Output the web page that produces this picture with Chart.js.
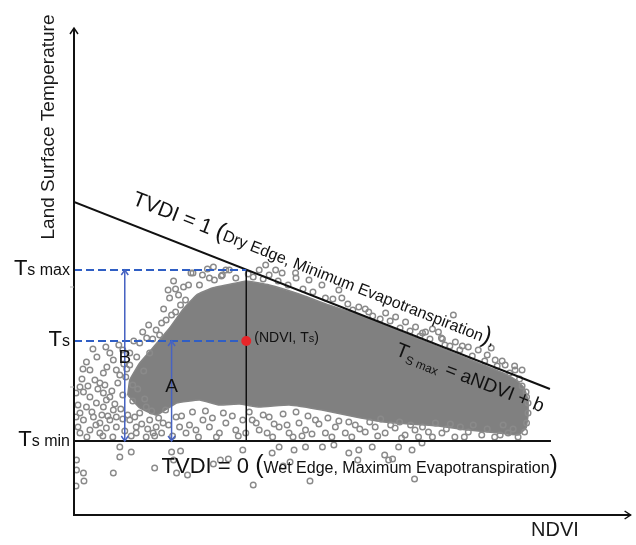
<!DOCTYPE html>
<html>
<head>
<meta charset="utf-8">
<script src="https://cdn.jsdelivr.net/npm/chart.js@4.4.1/dist/chart.umd.min.js"></script>
<style>
  html, body { margin: 0; padding: 0; background: #fff; }
  #wrap { width: 636px; height: 545px; position: relative; }
</style>
</head>
<body>
<div id="wrap"><canvas id="c"></canvas></div>
<script>
// Valores del diagrama TVDI (NDVI sin unidad, LST en unidades arbitrarias)
const X_MAX = 1.118;
const Y_MAX = 48.7;

const TS_MIN = 7.4;
const TS_MAX = 24.5;
const TS = 17.4;
const NDVI_PT = 0.346;
const B_X = 0.102;
const A_X = 0.196;

// borde seco (TVDI = 1) y borde húmedo (TVDI = 0)
const dryEdge = [[0, 31.3], [0.956, 12.6]];
const wetEdge = [[0, TS_MIN], [0.958, TS_MIN]];

// contorno de la nube densa de píxeles
const cloudOutline = [
  [0.108, 12.0], [0.112, 13.5], [0.132, 15.2], [0.158, 16.7], [0.192, 18.7],
  [0.218, 20.5], [0.246, 22.0], [0.278, 22.7], [0.326, 23.2], [0.346, 23.4],
  [0.392, 23.0], [0.452, 22.1], [0.512, 21.0], [0.572, 20.0], [0.632, 18.8],
  [0.692, 17.6], [0.752, 16.4], [0.812, 15.2], [0.862, 14.2], [0.888, 13.5],
  [0.904, 12.7], [0.912, 11.5], [0.912, 10.0], [0.908, 8.7], [0.892, 8.0],
  [0.852, 8.2], [0.792, 8.5], [0.732, 8.9], [0.672, 9.1], [0.622, 9.3],
  [0.566, 9.8], [0.498, 10.5], [0.432, 11.0], [0.372, 10.8], [0.332, 11.1],
  [0.292, 11.0], [0.252, 11.5], [0.206, 11.2], [0.166, 10.0], [0.132, 10.7],
  [0.108, 12.0]
];

// píxeles dispersos: zona izquierda
const sparseLeft = [
  [0.025, 15.3], [0.032, 14.5], [0.072, 16.2], [0.079, 15.5], [0.059, 14.2], [0.085, 14.5],
  [0.042, 13.5], [0.052, 13.2], [0.012, 12.8], [0.004, 12.2], [0.019, 12.3], [0.032, 11.8],
  [0.059, 12.2], [0.072, 11.8], [0.045, 11.2], [0.059, 10.8], [0.065, 11.5], [0.079, 10.5],
  [0.025, 10.8], [0.012, 10.2], [0.004, 9.8], [0.019, 9.5], [0.039, 9.8], [0.052, 9.2],
  [0.072, 9.5], [0.085, 9.8], [0.032, 8.5], [0.012, 8.2], [0.052, 8.2], [0.065, 8.7],
  [0.085, 8.8], [0.112, 9.5], [0.125, 8.8], [0.132, 10.2], [0.145, 10.8], [0.152, 9.5],
  [0.165, 8.8], [0.179, 9.2], [0.125, 8.2], [0.145, 7.8], [0.159, 8.2], [0.205, 9.8],
  [0.212, 8.8], [0.225, 8.2], [0.245, 8.5], [0.259, 9.5], [0.272, 8.8], [0.292, 8.2],
  [0.305, 9.2], [0.325, 8.5], [0.339, 9.5],
  [0.008, 11.0], [0.016, 13.6], [0.028, 12.9], [0.036, 10.3], [0.044, 9.0], [0.048, 12.6],
  [0.056, 10.0], [0.062, 13.0], [0.068, 9.9], [0.076, 12.4], [0.082, 11.1], [0.088, 13.2],
  [0.094, 10.6], [0.098, 12.0], [0.102, 8.4], [0.104, 13.8], [0.108, 10.0], [0.118, 11.4],
  [0.122, 9.8], [0.128, 12.6], [0.136, 9.1], [0.142, 11.6], [0.148, 8.6], [0.156, 10.4],
  [0.162, 7.9], [0.170, 9.7], [0.176, 8.2], [0.184, 10.5], [0.190, 9.0], [0.198, 7.9],
  [0.216, 9.9], [0.232, 9.0], [0.238, 10.3], [0.250, 7.8], [0.264, 10.4], [0.278, 9.7],
  [0.286, 7.8], [0.300, 10.2], [0.318, 9.9], [0.330, 7.9], [0.018, 14.6], [0.046, 15.8],
  [0.066, 14.8], [0.092, 14.0], [0.100, 15.1], [0.064, 16.8], [0.038, 16.6], [0.008, 8.8],
  [0.026, 7.8], [0.058, 7.9], [0.078, 7.8], [0.098, 9.6], [0.115, 7.9]
];

// píxeles dispersos: franja superior junto al borde seco
const sparseTop = [
  [0.165, 18.5], [0.185, 19.5], [0.192, 21.7], [0.189, 22.5], [0.239, 24.2], [0.312, 24.5],
  [0.132, 17.2], [0.146, 17.7], [0.152, 16.2], [0.126, 15.8], [0.112, 15.0], [0.098, 16.5],
  [0.172, 18.0], [0.204, 20.3], [0.224, 21.5], [0.252, 23.0], [0.282, 23.5], [0.296, 23.9],
  [0.112, 16.2], [0.120, 17.4], [0.138, 18.3], [0.150, 19.0], [0.158, 17.6], [0.176, 19.2],
  [0.180, 20.6], [0.196, 20.0], [0.200, 23.4], [0.210, 22.0], [0.220, 22.8], [0.090, 17.0],
  [0.140, 14.4], [0.118, 13.0], [0.106, 14.6],
  [0.372, 24.5], [0.392, 24.0], [0.418, 24.2], [0.446, 23.7], [0.472, 23.5], [0.498, 23.0],
  [0.532, 22.5], [0.538, 21.7], [0.572, 20.8], [0.592, 20.3], [0.626, 20.2], [0.646, 19.8],
  [0.666, 19.3], [0.686, 18.8], [0.706, 18.3], [0.732, 18.3], [0.762, 20.0], [0.738, 17.7],
  [0.766, 17.3], [0.792, 16.8], [0.812, 16.5], [0.838, 16.7], [0.846, 15.5], [0.866, 15.0],
  [0.886, 14.5], [0.235, 24.2], [0.272, 23.7], [0.298, 24.0], [0.305, 24.5], [0.325, 23.7],
  [0.385, 25.0], [0.405, 24.5], [0.445, 24.2],
  [0.204, 22.6], [0.214, 21.0], [0.230, 23.0], [0.258, 24.0], [0.268, 24.6], [0.280, 24.8],
  [0.350, 24.1], [0.360, 23.8], [0.380, 23.6], [0.410, 23.4], [0.430, 23.0], [0.460, 22.6],
  [0.480, 22.3], [0.505, 21.7], [0.520, 21.6], [0.550, 21.1], [0.560, 20.5], [0.585, 20.6],
  [0.600, 19.9], [0.615, 19.6], [0.635, 19.4], [0.655, 18.7], [0.675, 18.4], [0.695, 17.9],
  [0.715, 17.6], [0.720, 18.6], [0.745, 17.0], [0.755, 16.9], [0.775, 16.5], [0.800, 15.9],
  [0.825, 15.4], [0.850, 14.9], [0.875, 14.2], [0.895, 13.6], [0.900, 12.9], [0.908, 12.3],
  [0.700, 18.2], [0.740, 17.6], [0.780, 16.9], [0.830, 16.0], [0.860, 15.4], [0.885, 14.9],
  [0.900, 14.5]
];

// píxeles dispersos: franja inferior y bajo el borde húmedo
const sparseBottom = [
  [0.358, 9.5], [0.372, 8.5], [0.392, 9.8], [0.412, 8.8], [0.432, 8.2], [0.452, 9.2],
  [0.465, 8.5], [0.485, 9.5], [0.505, 8.2], [0.525, 8.8], [0.545, 8.2], [0.565, 9.0],
  [0.585, 8.3], [0.605, 8.8], [0.625, 8.2], [0.645, 8.7], [0.665, 8.0], [0.685, 8.5],
  [0.399, 7.8], [0.345, 8.2],
  [0.692, 7.8], [0.712, 8.3], [0.739, 8.2], [0.765, 7.8], [0.792, 8.3], [0.819, 8.0],
  [0.845, 7.8], [0.872, 8.2], [0.892, 7.8], [0.905, 8.3], [0.909, 9.2], [0.912, 10.2],
  [0.912, 11.2], [0.909, 11.8],
  [0.352, 10.3], [0.366, 9.2], [0.380, 10.0], [0.388, 8.2], [0.402, 9.1], [0.420, 10.1],
  [0.428, 9.0], [0.440, 7.8], [0.446, 10.3], [0.458, 7.9], [0.470, 9.9], [0.478, 8.1],
  [0.492, 9.1], [0.510, 9.7], [0.518, 7.8], [0.532, 9.4], [0.552, 9.3], [0.558, 7.8],
  [0.574, 8.6], [0.594, 9.3], [0.610, 7.9], [0.616, 9.6], [0.636, 9.0], [0.654, 9.3],
  [0.658, 7.7], [0.676, 9.0], [0.700, 8.8], [0.720, 7.8], [0.726, 9.2], [0.748, 8.6],
  [0.756, 9.1], [0.776, 8.8], [0.784, 7.8], [0.802, 9.0], [0.830, 8.6], [0.856, 8.0],
  [0.862, 9.0], [0.882, 8.6],
  [0.092, 6.8], [0.092, 5.8], [0.115, 6.3], [0.005, 5.5], [0.005, 4.5], [0.019, 4.2],
  [0.079, 4.2], [0.162, 4.7], [0.004, 2.9], [0.020, 3.4],
  [0.339, 6.5], [0.360, 3.0], [0.412, 6.8], [0.442, 6.5], [0.465, 6.8], [0.499, 6.8],
  [0.522, 7.0], [0.552, 6.2], [0.572, 6.5], [0.599, 6.8], [0.632, 5.5], [0.652, 6.8],
  [0.679, 6.5], [0.699, 7.2], [0.196, 6.3], [0.214, 6.4], [0.200, 5.5], [0.206, 4.2],
  [0.228, 4.0], [0.280, 5.1], [0.294, 5.5], [0.310, 5.6], [0.398, 6.2], [0.420, 4.9],
  [0.434, 5.3], [0.474, 3.4], [0.570, 5.5], [0.624, 6.0], [0.640, 5.6], [0.684, 3.6]
];

// marcas menores del eje Y
const yMinorTicks = [22.8, 12.8];

const FONT = "'Liberation Sans', Arial, sans-serif";
const DASH_BLUE = '#2f5ec4';
const ARROW_BLUE = '#4763c2';
const GREY = '#8a8a8a';

const toXY = arr => arr.map(p => ({ x: p[0], y: p[1] }));

function seg(data, color, width, dash, order) {
  return {
    type: 'line',
    data: toXY(data),
    borderColor: color,
    borderWidth: width,
    borderDash: dash || [],
    pointRadius: 0,
    fill: false,
    showLine: true,
    order: order
  };
}

function scatterSet(data) {
  return {
    data: toXY(data),
    pointStyle: 'circle',
    pointRadius: 2.8,
    pointBorderWidth: 1.4,
    borderColor: GREY,
    backgroundColor: 'rgba(255,255,255,0)',
    order: 15
  };
}

// dibuja texto compuesto de varios tramos con distinto tamaño
function drawRuns(ctx, runs, x, y) {
  let cx = x;
  runs.forEach(r => {
    ctx.font = r.size + 'px ' + FONT;
    ctx.fillText(r.t, cx, y + (r.dy || 0));
    cx += ctx.measureText(r.t).width + (r.gap || 0);
  });
  return cx - x;
}

function runsWidth(ctx, runs) {
  let w = 0;
  runs.forEach(r => {
    ctx.font = r.size + 'px ' + FONT;
    w += ctx.measureText(r.t).width + (r.gap || 0);
  });
  return w;
}

function chevron(ctx, x, y, dir, w, h) {
  ctx.beginPath();
  ctx.moveTo(x - w, y - dir * h);
  ctx.lineTo(x, y);
  ctx.lineTo(x + w, y - dir * h);
  ctx.stroke();
}

const annotations = {
  id: 'annotations',
  afterDraw(chart) {
    const ctx = chart.ctx;
    const sx = chart.scales.x, sy = chart.scales.y;
    const X = v => sx.getPixelForValue(v);
    const Y = v => sy.getPixelForValue(v);
    const area = chart.chartArea;

    ctx.save();
    // ejes con flecha
    ctx.strokeStyle = '#111';
    ctx.lineWidth = 2;
    ctx.beginPath();
    ctx.moveTo(area.left, area.top);
    ctx.lineTo(area.left, area.bottom);
    ctx.lineTo(area.right, area.bottom);
    ctx.stroke();
    ctx.lineWidth = 1.5;
    chevron(ctx, area.left, area.top, -1, 4, 6);
    ctx.beginPath();
    ctx.moveTo(area.right - 6, area.bottom - 4);
    ctx.lineTo(area.right, area.bottom);
    ctx.lineTo(area.right - 6, area.bottom + 4);
    ctx.stroke();

    ctx.strokeStyle = '#b5b5b5';
    ctx.lineWidth = 1;
    yMinorTicks.forEach(v => {
      ctx.beginPath();
      ctx.moveTo(area.left - 4, Y(v));
      ctx.lineTo(area.left, Y(v));
      ctx.stroke();
    });

    // puntas de flecha A y B
    ctx.strokeStyle = ARROW_BLUE;
    ctx.lineWidth = 1.5;
    chevron(ctx, X(B_X), Y(TS_MAX), -1, 3.5, 5);
    chevron(ctx, X(B_X), Y(TS_MIN), 1, 3.5, 5);
    chevron(ctx, X(A_X), Y(TS), -1, 3.5, 5);
    chevron(ctx, X(A_X), Y(TS_MIN), 1, 3.5, 5);

    ctx.fillStyle = '#111';
    ctx.textBaseline = 'alphabetic';
    ctx.textAlign = 'left';

    // etiquetas del eje Y
    const leftLabels = [
      { v: TS_MAX, runs: [{ t: 'T', size: 22 }, { t: 's max', size: 16 }] },
      { v: TS, runs: [{ t: 'T', size: 22 }, { t: 's', size: 16 }] },
      { v: TS_MIN, runs: [{ t: 'T', size: 22 }, { t: 's min', size: 16 }] }
    ];
    leftLabels.forEach(l => {
      const w = runsWidth(ctx, l.runs);
      drawRuns(ctx, l.runs, area.left - 4 - w, Y(l.v) + 5);
    });

    // A y B
    ctx.textAlign = 'center';
    ctx.textBaseline = 'middle';
    ctx.font = '19px ' + FONT;
    ctx.fillText('B', X(B_X), Y(15.75));
    ctx.fillText('A', X(A_X), Y(12.8));

    // títulos de ejes
    ctx.font = '20px ' + FONT;
    ctx.fillStyle = '#1a1a1a';
    ctx.fillText('NDVI', X(0.966), 530);
    ctx.save();
    ctx.translate(48.5, 127);
    ctx.rotate(-Math.PI / 2);
    ctx.font = '19px ' + FONT;
    ctx.fillText('Land Surface Temperature', 0, 0);
    ctx.restore();

    ctx.textAlign = 'left';
    ctx.textBaseline = 'alphabetic';
    ctx.fillStyle = '#111';

    // punto (NDVI, Ts)
    drawRuns(ctx, [
      { t: '(NDVI, T', size: 14 }, { t: 's', size: 11 }, { t: ')', size: 14 }
    ], X(NDVI_PT) + 8, Y(TS) + 1);

    // TVDI = 0
    drawRuns(ctx, [
      { t: 'TVDI = 0 ', size: 22 }, { t: '(', size: 25 },
      { t: 'Wet Edge, Maximum Evapotranspiration', size: 16 }, { t: ')', size: 25 }
    ], X(0.176), Y(TS_MIN) + 32);

    // textos inclinados sobre el borde seco
    const x1 = X(dryEdge[0][0]), y1 = Y(dryEdge[0][1]);
    const x2 = X(dryEdge[1][0]), y2 = Y(dryEdge[1][1]);
    const ang = Math.atan2(y2 - y1, x2 - x1);
    const onLine = v => {
      const t = (v - dryEdge[0][0]) / (dryEdge[1][0] - dryEdge[0][0]);
      return [x1 + (x2 - x1) * t, y1 + (y2 - y1) * t];
    };

    let p = onLine(0.101);
    ctx.save();
    ctx.translate(p[0], p[1]);
    ctx.rotate(ang);
    drawRuns(ctx, [
      { t: 'TVDI = 1 ', size: 21 }, { t: '(', size: 24 },
      { t: 'Dry Edge, Minimum Evapotranspiration', size: 16 }, { t: ')', size: 24 },
      { t: ',', size: 16 }
    ], 0, -19);
    ctx.restore();

    p = onLine(0.662);
    ctx.save();
    ctx.translate(p[0], p[1]);
    ctx.rotate(ang);
    drawRuns(ctx, [
      { t: 'T', size: 20 }, { t: 'S max', size: 12, dy: 4, gap: 7 },
      { t: '= aNDVI + b', size: 19 }
    ], 0, 25);
    ctx.restore();

    ctx.restore();
  }
};

new Chart(document.getElementById('c'), {
  type: 'scatter',
  data: {
    datasets: [
      {
        type: 'line',
        data: toXY(cloudOutline),
        borderColor: '#858585',
        borderWidth: 1.5,
        backgroundColor: '#808080',
        pointRadius: 0,
        fill: 'shape',
        showLine: true,
        tension: 0.1,
        order: 20
      },
      scatterSet(sparseLeft),
      scatterSet(sparseTop),
      scatterSet(sparseBottom),
      seg(dryEdge, '#111', 2, null, 5),
      seg(wetEdge, '#111', 2, null, 5),
      seg([[NDVI_PT, TS_MAX], [NDVI_PT, TS_MIN]], '#111', 1.5, null, 5),
      seg([[0, TS_MAX], [NDVI_PT, TS_MAX]], DASH_BLUE, 2, [8, 4], 4),
      seg([[0, TS], [NDVI_PT, TS]], DASH_BLUE, 2, [8, 4], 4),
      seg([[B_X, TS_MAX], [B_X, TS_MIN]], ARROW_BLUE, 1.5, null, 3),
      seg([[A_X, TS], [A_X, TS_MIN]], ARROW_BLUE, 1.5, null, 3),
      {
        data: [{ x: NDVI_PT, y: TS }],
        pointRadius: 5,
        pointBorderWidth: 0,
        backgroundColor: '#e8262a',
        borderColor: '#e8262a',
        order: 1
      }
    ]
  },
  options: {
    responsive: true,
    maintainAspectRatio: false,
    animation: false,
    layout: { padding: { left: 74, right: 3, top: 28, bottom: 30 } },
    plugins: { legend: { display: false }, tooltip: { enabled: false } },
    scales: {
      x: { type: 'linear', min: 0, max: X_MAX, display: false },
      y: { type: 'linear', min: 0, max: Y_MAX, display: false }
    }
  },
  plugins: [annotations]
});
</script>
</body>
</html>
